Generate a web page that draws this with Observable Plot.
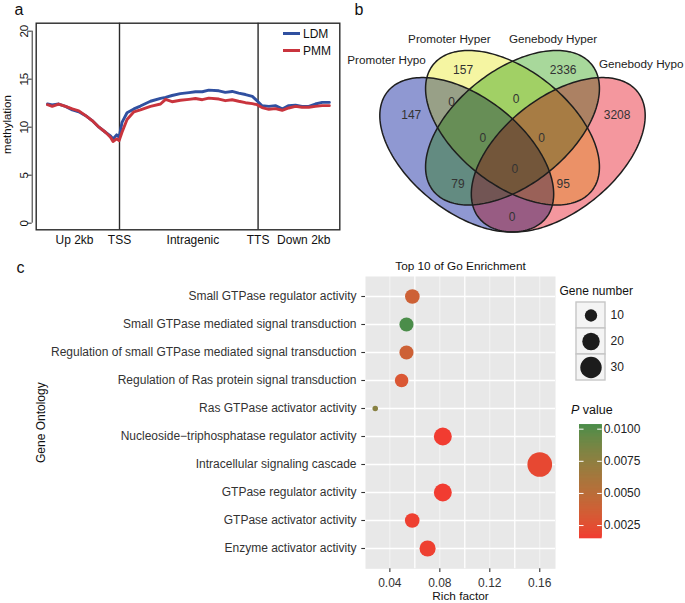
<!DOCTYPE html>
<html><head><meta charset="utf-8">
<script src="https://cdn.jsdelivr.net/npm/d3@7"></script>
<script src="https://cdn.jsdelivr.net/npm/@observablehq/plot@0.6"></script>
<style>
html,body{margin:0;padding:0;background:#fff;}
#root{position:relative;width:685px;height:603px;overflow:hidden;font-family:"Liberation Sans",Arial,sans-serif;color:#111;}
#root svg{overflow:visible;background:transparent;}
.plab{position:absolute;font-size:16px;line-height:16px;color:#111;}
.leg{position:absolute;font-size:12px;line-height:12px;color:#111;white-space:nowrap;}
.leg span.k{display:inline-block;width:17.5px;height:3px;vertical-align:middle;margin-right:3px;position:relative;top:-1px;}
.venn-mult path{mix-blend-mode:multiply;}
</style></head><body><div id="root"></div>
<script>
// ---------- Panel a : methylation profile ----------
const profileBins = [0, 1.3, 3.1, 5, 6.9, 8.7, 10.6, 12.4, 14.3, 16.1, 17.5, 18.2, 19.2, 19.9, 20.7, 22.1, 24, 25.8, 28.6, 31.4, 32.8, 34.6, 36.9, 39.3, 41.1, 43, 44.8, 47.6, 49.4, 51.3, 53.1, 55, 56.9, 58.2, 59.6, 61.5, 63.3, 65.2, 67, 68.9, 70.7, 72.6, 74.4, 76.3, 78.3];
const ldmValues = [12.41, 12.31, 12.41, 12.17, 11.8, 11.6, 11.2, 10.69, 10.0, 9.47, 9.1, 8.78, 9.2, 8.95, 10.5, 11.5, 11.9, 12.2, 12.7, 13.0, 13.1, 13.3, 13.5, 13.6, 13.69, 13.69, 13.86, 13.79, 13.62, 13.72, 13.55, 13.4, 13.2, 12.76, 12.24, 12.17, 12.24, 11.9, 12.24, 12.3, 12.17, 12.17, 12.41, 12.58, 12.58];
const pmmValues = [12.34, 12.17, 12.41, 12.17, 11.9, 11.7, 11.2, 10.69, 10.0, 9.47, 8.95, 8.5, 8.78, 8.6, 9.47, 10.8, 11.6, 11.8, 12.17, 12.41, 12.9, 12.65, 12.8, 12.9, 12.99, 12.86, 13.03, 12.93, 12.76, 12.86, 12.7, 12.55, 12.45, 12.34, 12.04, 11.86, 11.93, 11.76, 12.0, 12.17, 12.07, 12.07, 12.17, 12.24, 12.24];
const profileSeries = ["LDM", "PMM"];
const regionTickPos = [7.5, 20, 40.4, 58.5, 71.2];
const regionTickLabels = ["Up 2kb", "TSS", "Intragenic", "TTS", "Down 2kb"];
const boundaryPos = [20, 58.5];
const methylTicks = [0, 5, 10, 15, 20];

// ---------- Panel b : Venn ----------
const vennSets = ["Promoter Hypo", "Promoter Hyper", "Genebody Hyper", "Genebody Hypo"];
const vennRegionCounts = [147, 157, 2336, 3208, 0, 0, 0, 0, 0, 79, 95, 0];

// ---------- Panel c : GO enrichment ----------
const goTerms = ["Small GTPase regulator activity", "Small GTPase mediated signal transduction", "Regulation of small GTPase mediated signal transduction", "Regulation of Ras protein signal transduction", "Ras GTPase activator activity", "Nucleoside\u2212triphosphatase regulator activity", "Intracellular signaling cascade", "GTPase regulator activity", "GTPase activator activity", "Enzyme activator activity"];
const richFactor = [0.058, 0.0533, 0.0533, 0.0494, 0.0283, 0.0824, 0.160, 0.0824, 0.0579, 0.0702];
const geneNumber = [14, 13, 13, 12, 2, 21, 40, 21, 14, 17];
const pValue = [0.0038, 0.0103, 0.0038, 0.0030, 0.0078, 0.0015, 0.0021, 0.0015, 0.0017, 0.0017];
const richTicks = [0.04, 0.08, 0.12, 0.16];
const richMinor = [0.06, 0.10, 0.14];
const geneLegendValues = [10, 20, 30];
const pLegendTicks = [0.0025, 0.0050, 0.0075, 0.0100];

// ---------- styling / geometry ----------
const FONT = '"Liberation Sans", Arial, sans-serif';
const root = document.getElementById("root");
function place(el, left, top) { el.style.position = "absolute"; el.style.left = left + "px"; el.style.top = top + "px"; root.appendChild(el); return el; }
function html(tag, cls, inner) { const e = document.createElement(tag); if (cls) e.className = cls; e.innerHTML = inner; return e; }

// ===== Panel a =====
const profile = profileBins.flatMap((b, i) => [{bin: b, v: ldmValues[i], s: profileSeries[0]}, {bin: b, v: pmmValues[i], s: profileSeries[1]}]);
const xDomA = [-3.14, 81.2];
const labelMap = new Map(regionTickPos.map((p, i) => [p, regionTickLabels[i]]));
const plotA = Plot.plot({
  width: 345, height: 255,
  marginLeft: 35.7, marginRight: 5.7, marginTop: 22.7, marginBottom: 25.7,
  x: {domain: xDomA, label: null},
  y: {domain: [-0.69, 20.83], label: null},
  color: {domain: profileSeries, range: ["#3050A0", "#C9343D"]},
  style: {fontFamily: FONT, fontSize: "12px", color: "#111", background: "transparent"},
  marks: [
    Plot.ruleX(boundaryPos, {stroke: "#2a2a2a", strokeWidth: 1.4}),
    Plot.line(profile, {x: "bin", y: "v", z: "s", stroke: "s", strokeWidth: 2.9, strokeLinejoin: "round"}),
    Plot.frame({stroke: "#2a2a2a", strokeWidth: 1.4}),
    Plot.axisX({ticks: regionTickPos, tickFormat: d => labelMap.get(d), tickSize: 0, tickPadding: 5.7, fontSize: 12, fill: "#111", label: null}),
    Plot.axisY({ticks: methylTicks, tickSize: 4.5, dx: -4, tickFormat: () => "", stroke: "#2a2a2a", label: null}),
    Plot.ruleX([xDomA[0]], {y1: methylTicks[0], y2: methylTicks[methylTicks.length - 1], dx: -4, stroke: "#2a2a2a", strokeWidth: 1}),
    Plot.text(methylTicks, {y: d => d, frameAnchor: "left", text: d => String(d), rotate: -90, dx: -11.5, textAnchor: "middle", lineAnchor: "middle", fontSize: 11.5, fill: "#111"}),
    Plot.text(["methylation"], {frameAnchor: "left", dx: -28.4, dy: -2, rotate: -90, textAnchor: "middle", lineAnchor: "middle", fontSize: 11.5, fill: "#111"})
  ]
});
place(plotA, 0, 0);
const legA = html("div", "leg", `<div style="height:17px"><span class="k" style="background:#3050A0"></span>LDM</div><div><span class="k" style="background:#C9343D"></span>PMM</div>`);
place(legA, 282.5, 27.5);

// ===== Panel b =====
const vennLight = ["#8F98D2", "#F5F5A2", "#A8D89B", "#F4979E"];   // single-set region tints
const vennBase = ["#1F31A5", "#EBEB45", "#51B137", "#E92F3D"];    // same hues at full strength
const multWeight = 0.7;
const vennShape = {a: 0.35, b: 0.2};
const vennEllipses = [
  {cx: 0.35, cy: 0.47, angle: 135},
  {cx: 0.50, cy: 0.57, angle: 135},
  {cx: 0.50, cy: 0.57, angle: 45},
  {cx: 0.65, cy: 0.47, angle: 45}
];
function ellipsePoints(g, n = 200) {
  const th = g.angle * Math.PI / 180;
  return d3.range(n + 1).map(i => {
    const t = 2 * Math.PI * i / n;
    const u = vennShape.a * Math.cos(t), v = vennShape.b * Math.sin(t);
    return {x: g.cx + u * Math.cos(th) - v * Math.sin(th), y: g.cy + u * Math.sin(th) + v * Math.cos(th)};
  });
}
const vennPts = vennEllipses.map(g => ellipsePoints(g));
const vennCountAnchors = [[0.168, 0.615], [0.338, 0.784], [0.666, 0.784], [0.843, 0.615], [0.300, 0.664], [0.512, 0.677], [0.403, 0.531], [0.595, 0.531], [0.508, 0.418], [0.321, 0.363], [0.666, 0.363], [0.499, 0.240]];
const vennNameAnchors = [[0.087, 0.818], [0.293, 0.898], [0.633, 0.898], [0.922, 0.806]];
const vennCountData = vennRegionCounts.map((c, i) => ({c, x: vennCountAnchors[i][0], y: vennCountAnchors[i][1]}));
const vennNameData = vennSets.map((s, i) => ({s, x: vennNameAnchors[i][0], y: vennNameAnchors[i][1]}));
function vennPlot(marks) {
  return Plot.plot({
    width: 345, height: 255,
    marginLeft: 19.5, marginRight: 20.5, marginTop: 10.7, marginBottom: 0.4,
    x: {domain: [0, 1], axis: null},
    y: {domain: [0.1, 1], axis: null},
    style: {fontFamily: FONT, fontSize: "12px", background: "transparent"},
    marks
  });
}
const vennOver = vennPlot(vennPts.map((pts, i) => Plot.line(pts, {x: "x", y: "y", fill: vennBase[i], fillOpacity: 0.5, stroke: null})));
const vennMult = vennPlot(vennPts.map((pts, i) => Plot.line(pts, {x: "x", y: "y", fill: vennLight[i], stroke: null, className: "venn-mult"})));
vennMult.style.opacity = multWeight;
vennMult.style.isolation = "isolate";
const vennTop = vennPlot([
  ...vennPts.map(pts => Plot.line(pts, {x: "x", y: "y", stroke: "#1e1e1e", strokeWidth: 1.5})),
  Plot.text(vennCountData, {x: "x", y: "y", text: d => String(d.c), fontSize: 12, fill: "#333"}),
  Plot.text(vennNameData, {x: "x", y: "y", text: "s", fontSize: 11.7, fill: "#222"})
]);
place(vennOver, 340, 0);
place(vennMult, 340, 0);
place(vennTop, 340, 0);

// ===== Panel c =====
const goData = goTerms.map((t, i) => ({term: t, rich: richFactor[i], gene: geneNumber[i], p: pValue[i]}));
const pDomain = [0.00147, 0.01034];
const colorScale = {type: "linear", domain: pDomain, range: ["#F13B31", "#4A8D4A"], interpolate: "lab"};
const rScale = {type: "sqrt", domain: [0, 30], range: [0, 10.7]};
const plotC = Plot.plot({
  width: 560, height: 348,
  marginLeft: 365, marginRight: 5, marginTop: 21, marginBottom: 34.7,
  x: {domain: [0.0205, 0.1726], label: null},
  y: {type: "point", domain: goTerms, padding: 0.62, label: null},
  r: rScale,
  color: colorScale,
  style: {fontFamily: FONT, fontSize: "12px", background: "transparent"},
  marks: [
    Plot.frame({fill: "#E8E8E8", stroke: null}),
    Plot.gridX({ticks: richMinor, stroke: "white", strokeOpacity: 1, strokeWidth: 1.3}),
    Plot.gridX({ticks: richTicks, stroke: "white", strokeOpacity: 0.8, strokeWidth: 0.7}),
    Plot.gridY({stroke: "white", strokeOpacity: 1, strokeWidth: 1.3}),
    Plot.dot(goData, {x: "rich", y: "term", r: "gene", fill: "p", stroke: null}),
    Plot.axisY({tickSize: 3.7, tickPadding: 5.3, fontSize: 12, fill: "#333", stroke: "#333", strokeWidth: 1.1, label: null}),
    Plot.axisX({ticks: richTicks, tickFormat: d3.format(".2f"), tickSize: 3.7, tickPadding: 6.2, fontSize: 12, fill: "#333", stroke: "#333", strokeWidth: 1.1, label: null}),
    Plot.text(["Rich factor"], {frameAnchor: "bottom", dy: 27.8, lineAnchor: "middle", fontSize: 11.8, fill: "#111"}),
    Plot.text(["Top 10 of Go Enrichment"], {frameAnchor: "top", dy: -10, lineAnchor: "middle", fontSize: 11.8, fill: "#111"}),
    Plot.text(["Gene Ontology"], {frameAnchor: "left", dx: -324, rotate: -90, textAnchor: "middle", lineAnchor: "middle", fontSize: 12, fill: "#111"})
  ]
});
place(plotC, 0, 255);

// size legend
const plotSize = Plot.plot({
  width: 100, height: 110,
  marginLeft: 21, marginRight: 50, marginTop: 21.7, marginBottom: 10,
  x: {type: "band", domain: ["k"], axis: null, padding: 0},
  y: {type: "band", domain: geneLegendValues, axis: null, padding: 0},
  r: rScale,
  style: {fontFamily: FONT, fontSize: "12px", background: "transparent"},
  marks: [
    Plot.cell(geneLegendValues, {x: () => "k", y: d => d, fill: "#F4F4F4", stroke: "#C6C6C6", strokeWidth: 1.4}),
    Plot.dot(geneLegendValues, {x: () => "k", y: d => d, r: d => d, fill: "#1c1c1c", stroke: null}),
    Plot.text(geneLegendValues, {x: () => "k", y: d => d, text: d => String(d), dx: 19.5, textAnchor: "start", lineAnchor: "middle", fontSize: 12, fill: "#222"}),
    Plot.text(["Gene number"], {frameAnchor: "top-left", dx: -17, dy: -11, textAnchor: "start", lineAnchor: "middle", fontSize: 12, fill: "#111"})
  ]
});
place(plotSize, 555, 280);

// colour legend
const nSteps = 80;
const pSteps = d3.range(nSteps).map(i => pDomain[0] + (pDomain[1] - pDomain[0]) * i / nSteps);
const stepH = (pDomain[1] - pDomain[0]) / nSteps;
const plotColor = Plot.plot({
  width: 115, height: 150,
  marginLeft: 9, marginRight: 83.3, marginTop: 24.3, marginBottom: 11.7,
  x: {domain: [0, 1], axis: null},
  y: {domain: pDomain, axis: null},
  color: colorScale,
  style: {fontFamily: FONT, fontSize: "12px", background: "transparent"},
  marks: [
    Plot.rect(pSteps, {x1: 0, x2: 1, y1: d => d, y2: d => Math.min(pDomain[1], d + stepH * 3), fill: d => d + stepH / 2}),
    Plot.ruleY(pLegendTicks, {x1: 0, x2: 0.2, stroke: "white", strokeWidth: 1}),
    Plot.ruleY(pLegendTicks, {x1: 0.8, x2: 1, stroke: "white", strokeWidth: 1}),
    Plot.text(pLegendTicks, {x: 1, y: d => d, text: d => d3.format(".4f")(d), textAnchor: "start", dx: 1.5, fontSize: 12, fill: "#222"})
  ]
});
place(plotColor, 570, 400);
const pTitle = html("div", "leg", `<i>P</i>&nbsp;value`);
pTitle.style.fontSize = "12.5px"; pTitle.style.lineHeight = "12.5px";
place(pTitle, 571, 404);

// panel letters
place(html("div", "plab", "a"), 14.5, 2);
place(html("div", "plab", "b"), 354.5, 1.5);
place(html("div", "plab", "c"), 16.5, 259.8);
</script></body></html>
